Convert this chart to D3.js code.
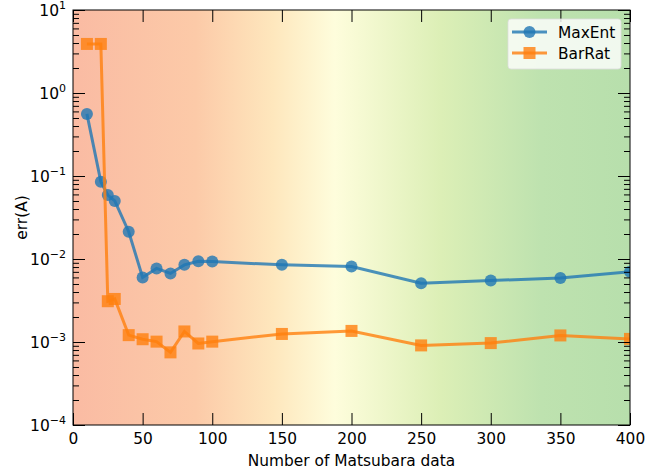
<html lang="en">
<head>
    <meta charset="UTF-8"/>
    <title>err(A) vs Matsubara data</title>
    <script src="https://d3js.org/d3.v7.min.js"></script>
    <style>
        body { margin: 0; background: white; }
        text { font-family: "DejaVu Sans", sans-serif; }
    </style>
</head>
<body>
    <script>
        // data
        var nData = [10, 20, 25, 30, 40, 50, 60, 70, 80, 90, 100, 150, 200, 250, 300, 350, 400];
        var maxEnt = [0.56, 0.085, 0.059, 0.050, 0.0213, 0.0060, 0.0077, 0.0067, 0.0085, 0.0094, 0.0093,
                      0.0085, 0.0081, 0.0051, 0.0055, 0.0059, 0.0070];
        var barRat = [3.9, 3.9, 0.0031, 0.0033, 0.00121, 0.00108, 0.00101, 0.00075, 0.00134, 0.00096, 0.00101,
                      0.00125, 0.00136, 0.00091, 0.00097, 0.00120, 0.00109];
        var xTicks = [0, 50, 100, 150, 200, 250, 300, 350, 400];
        var yExps = [-4, -3, -2, -1, 0, 1];

        var w = 670, h = 472;
        var fs = 15.4;
        // plot box (window.top is taken, so prefixed names)
        var pLeft = 73, pRight = 630, pTop = 10, pBottom = 425;

        var xScale = d3.scaleLinear().domain([0, 400]).range([pLeft, pRight]);
        var yScale = d3.scaleLog().domain([1e-4, 10]).range([pBottom, pTop]);

        var svg = d3.select("body").append("svg")
                    .attr("width", w)
                    .attr("height", h);

        // background gradient
        var defs = svg.append("defs");
        var grad = defs.append("linearGradient").attr("id", "bg")
                       .attr("x1", "0%").attr("x2", "100%").attr("y1", "0%").attr("y2", "0%");
        [[0, "#fabba3"], [0.22, "#fccaa8"], [0.36, "#fee7bd"], [0.47, "#fefddc"],
         [0.66, "#dcefb6"], [0.84, "#bee2af"], [1, "#b7dfac"]].forEach(function(s) {
            grad.append("stop").attr("offset", s[0]).attr("stop-color", s[1]);
        });
        defs.append("clipPath").attr("id", "clip")
            .append("rect")
            .attr("x", pLeft).attr("y", pTop)
            .attr("width", pRight - pLeft).attr("height", pBottom - pTop);

        svg.append("rect")
            .attr("x", pLeft).attr("y", pTop)
            .attr("width", pRight - pLeft).attr("height", pBottom - pTop)
            .attr("fill", "url(#bg)");

        // series
        var series = [
            {name: "MaxEnt", values: maxEnt, color: "#1f77b4", marker: "circle"},
            {name: "BarRat", values: barRat, color: "#ff7f0e", marker: "square"}
        ];

        var line = d3.line()
                     .x(function(d) { return xScale(d[0]); })
                     .y(function(d) { return yScale(d[1]); });

        var plot = svg.append("g").attr("clip-path", "url(#clip)");

        function drawMarker(g, s, x, y) {
            if (s.marker == "circle") {
                g.append("circle").attr("cx", x).attr("cy", y).attr("r", 6)
                 .attr("fill", s.color).attr("opacity", 0.8);
            } else {
                g.append("rect").attr("x", x - 6).attr("y", y - 6)
                 .attr("width", 12).attr("height", 12)
                 .attr("fill", s.color).attr("opacity", 0.8);
            }
        }

        series.forEach(function(s) {
            var pts = nData.map(function(n, i) { return [n, s.values[i]]; });
            var g = plot.append("g");
            g.append("path")
             .datum(pts)
             .attr("d", line)
             .attr("fill", "none")
             .attr("stroke", s.color)
             .attr("stroke-width", 3)
             .attr("opacity", 0.8);
            pts.forEach(function(p) {
                drawMarker(g, s, xScale(p[0]), yScale(p[1]));
            });
        });

        // axes, ticks inward
        var majors = yExps.map(function(e) { return Math.pow(10, e); });
        var minors = [];
        for (var e = -4; e < 1; e++) {
            for (var k = 2; k < 10; k++) minors.push(k * Math.pow(10, e));
        }

        svg.append("g")
            .attr("transform", "translate(0," + pBottom + ")")
            .call(d3.axisBottom(xScale).tickValues(xTicks).tickSize(-12).tickPadding(8))
            .call(function(g) {
                g.attr("font-size", fs).attr("font-family", "DejaVu Sans");
                g.select(".domain").remove();
                g.selectAll("text").attr("fill", "#000");
            });

        svg.append("g")
            .attr("transform", "translate(0," + pTop + ")")
            .call(d3.axisTop(xScale).tickValues(xTicks).tickSize(-12).tickFormat(""))
            .call(function(g) { g.select(".domain").remove(); });

        [[pLeft, d3.axisLeft], [pRight, d3.axisRight]].forEach(function(a) {
            svg.append("g")
                .attr("transform", "translate(" + a[0] + ",0)")
                .call(a[1](yScale).tickValues(majors).tickSize(-12).tickFormat(""))
                .call(function(g) { g.select(".domain").remove(); });
            svg.append("g")
                .attr("transform", "translate(" + a[0] + ",0)")
                .call(a[1](yScale).tickValues(minors).tickSize(-6).tickFormat(""))
                .call(function(g) { g.select(".domain").remove(); });
        });

        // y tick labels 10^n
        var yLab = svg.append("g").selectAll("text")
            .data(yExps)
            .enter()
            .append("text")
            .attr("x", 66)
            .attr("y", function(d) { return yScale(Math.pow(10, d)) + 6; })
            .attr("text-anchor", "end")
            .attr("font-family", "Liberation Serif, serif")
            .attr("font-size", 15.5);
        yLab.append("tspan").text("10");
        yLab.append("tspan")
            .attr("dy", -7)
            .attr("font-size", 11)
            .text(function(d) { return d < 0 ? "\u2212" + (-d) : d; });

        // frame
        svg.append("rect")
            .attr("x", pLeft).attr("y", pTop)
            .attr("width", pRight - pLeft).attr("height", pBottom - pTop)
            .attr("fill", "none")
            .attr("stroke", "#000")
            .attr("stroke-width", 1);

        // axis labels
        svg.append("text")
            .attr("text-anchor", "middle")
            .attr("x", (pLeft + pRight) / 2)
            .attr("y", 466)
            .attr("font-size", fs)
            .text("Number of Matsubara data");

        svg.append("text")
            .attr("text-anchor", "middle")
            .attr("transform", "rotate(-90)")
            .attr("x", -(pTop + pBottom) / 2)
            .attr("y", 27)
            .attr("font-size", fs)
            .text("err(A)");

        // legend
        var leg = svg.append("g");
        leg.append("rect")
            .attr("x", 508).attr("y", 19)
            .attr("width", 113).attr("height", 50)
            .attr("rx", 3)
            .attr("fill", "#fff").attr("fill-opacity", 0.8)
            .attr("stroke", "#ddd").attr("stroke-opacity", 0.8);
        series.forEach(function(s, i) {
            var y = 32 + i * 21;
            var g = leg.append("g");
            g.append("line")
             .attr("x1", 512).attr("x2", 547)
             .attr("y1", y).attr("y2", y)
             .attr("stroke", s.color).attr("stroke-width", 3).attr("opacity", 0.8);
            drawMarker(g, s, 529.5, y);
            g.append("text")
             .attr("x", 558).attr("y", y + 5.5)
             .attr("font-size", fs)
             .text(s.name);
        });
    </script>
</body>
</html>
